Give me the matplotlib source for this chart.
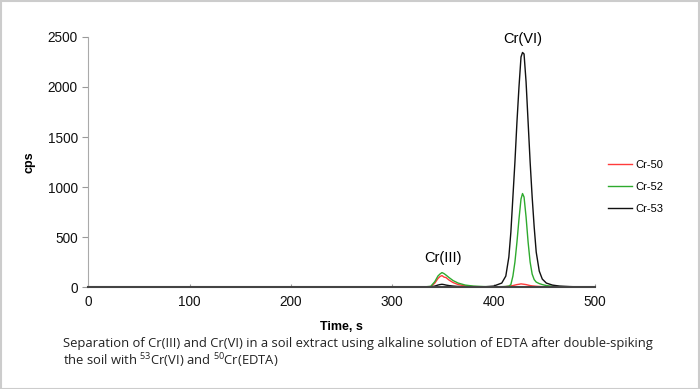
import matplotlib
matplotlib.use("Agg")
import matplotlib.pyplot as plt
from matplotlib.patches import Rectangle

plt.rcParams['font.family'] = ['Liberation Sans', 'DejaVu Sans']
plt.rcParams['mathtext.default'] = 'regular'
plt.rcParams['mathtext.fontset'] = 'custom'
plt.rcParams['mathtext.rm'] = 'Open Sans'

# Time axis (s) and series values (cps)
time_s = [0, 330, 338, 342, 345, 347, 349, 351, 353, 356, 360, 365, 372, 380, 390,
          400, 408, 412, 415, 417, 419, 421, 423, 425, 427, 428.5, 430, 432, 434,
          436, 438, 440, 442, 445, 448, 452, 458, 465, 475, 490]
cr50 = [0, 0, 5, 40, 85, 105, 115, 100, 95, 70, 45, 25, 12, 5, 2,
        2, 3, 5, 8, 12, 15, 20, 25, 28, 32, 30, 28, 25, 20,
        15, 12, 10, 8, 6, 4, 3, 2, 1, 0, 0]
cr52 = [0, 0, 8, 55, 110, 130, 145, 135, 120, 95, 65, 40, 20, 10, 5,
        3, 4, 6, 10, 25, 110, 250, 450, 680, 880, 935, 900, 700, 450,
        250, 130, 75, 50, 35, 25, 15, 8, 5, 2, 0]
cr53 = [0, 0, 2, 10, 20, 25, 28, 25, 20, 15, 10, 6, 3, 2, 2,
        10, 40, 110, 300, 550, 900, 1250, 1650, 2000, 2300, 2345, 2330, 2050, 1650,
        1250, 900, 600, 350, 160, 80, 40, 20, 10, 5, 0]

series_names = ['Cr-50', 'Cr-52', 'Cr-53']
series_colors = ['#ff3b3b', '#2eaa2e', '#111111']
series_values = [cr50, cr52, cr53]

x_ticks = [0, 100, 200, 300, 400, 500]
y_ticks = [0, 500, 1000, 1500, 2000, 2500]

caption = ("Separation of Cr(III) and Cr(VI) in a soil extract using alkaline solution of EDTA after double-spiking\n"
           "the soil with $^{53}$Cr(VI) and $^{50}$Cr(EDTA)")

fig = plt.figure(figsize=(7.0, 3.89), dpi=100)
ax = fig.add_axes([0.126, 0.262, 0.724, 0.643])

for name, col, vals in zip(series_names, series_colors, series_values):
    ax.plot(time_s, vals, color=col, lw=1.0, label=name)

ax.set_xlim(0, 500)
ax.set_ylim(0, 2500)
ax.set_xticks(x_ticks)
ax.set_yticks(y_ticks)
ax.tick_params(axis='both', labelsize=9.8, colors='#999999', labelcolor='#111111', length=4)
ax.tick_params(axis='x', direction='in', length=2, pad=6)
for s in ['top', 'right']:
    ax.spines[s].set_visible(False)
ax.spines['left'].set_color('#aaaaaa')
ax.spines['bottom'].set_color('#444444')
ax.spines['bottom'].set_linewidth(1.5)

ax.set_xlabel('Time, s', fontsize=9, fontweight='bold', labelpad=8)
ax.set_ylabel('cps', fontsize=9, fontweight='bold', labelpad=9)

ax.text(429, 2475, 'Cr(VI)', ha='center', va='center', fontsize=10.5)
ax.text(350, 290, 'Cr(III)', ha='center', va='center', fontsize=10.5)

leg = ax.legend(loc='center left', bbox_to_anchor=(1.005, 0.40), frameon=False,
                fontsize=8, handlelength=2.2, labelspacing=1.1, handletextpad=0.3)

fig.text(0.09, 0.09, caption, fontsize=9.4, family=['Open Sans', 'DejaVu Sans'],
         ha='left', va='center', linespacing=1.1, color='#222222')

fig.patches.append(Rectangle((0.001, 0.001), 0.998, 0.997, transform=fig.transFigure,
                             fill=False, edgecolor='#cccccc', lw=1.5))

fig.savefig('out.png', dpi=100)
